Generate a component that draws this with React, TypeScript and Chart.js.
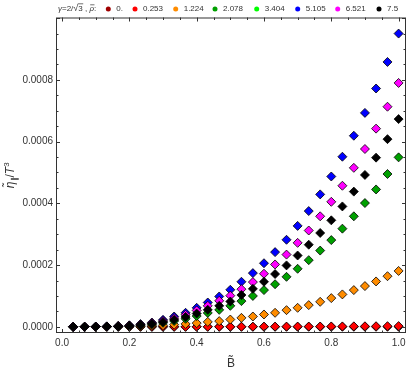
import React, { useEffect, useRef } from 'react';
import { Chart, registerables } from 'chart.js';
Chart.register(...registerables);

// B~ values (k/30)
const B = [0.033, 0.067, 0.1, 0.133, 0.167, 0.2, 0.233, 0.267, 0.3, 0.333, 0.367, 0.4, 0.433, 0.467, 0.5,
  0.533, 0.567, 0.6, 0.633, 0.667, 0.7, 0.733, 0.767, 0.8, 0.833, 0.867, 0.9, 0.933, 0.967, 1.0];

const rhoLabels = ['0.', '0.253', '1.224', '2.078', '3.404', '5.105', '6.521', '7.5'];
const rhoColors = ['#a00000', '#ff0000', '#ff8c00', '#00a000', '#00ff00', '#0000ff', '#ff00ff', '#000000'];

const rho0 = [0, 0, 0, 0, 0, 0, 0, 0, 0, 0, 0, 0, 0, 0, 0, 0, 0, 0, 0, 0, 0, 0, 0, 0, 0, 0, 0, 0, 0, 0];
const rho0253 = [0, 0, 0, 0, 0, 0, 0, 0, 0.0000001, 0.0000001, 0.0000001, 0.0000002, 0.0000002, 0.0000003, 0.0000003,
  0.0000004, 0.0000005, 0.0000006, 0.0000007, 0.0000008, 0.0000009, 0.000001, 0.0000011, 0.0000013, 0.0000014,
  0.0000016, 0.0000018, 0.000002, 0.0000022, 0.0000024];
const rho1224 = [0, 0, 0.0000001, 0.0000003, 0.0000007, 0.0000013, 0.0000022, 0.0000035, 0.000005, 0.000007,
  0.0000095, 0.000012, 0.000016, 0.0000185, 0.0000237, 0.000029, 0.0000334, 0.00004, 0.0000454, 0.000054,
  0.0000616, 0.0000703, 0.000081, 0.000093, 0.000105, 0.000119, 0.000132, 0.000147, 0.000164, 0.000181];
const rho2078 = [0, 0.0000001, 0.0000004, 0.0000008, 0.0000017, 0.0000028, 0.000005, 0.000008, 0.000013, 0.000019,
  0.000026, 0.000035, 0.000045, 0.000055, 0.000068, 0.0000833, 0.0001, 0.000119, 0.000138, 0.000162,
  0.000188, 0.000216, 0.000247, 0.000281, 0.000318, 0.000358, 0.000401, 0.000445, 0.000495, 0.000549];
const rho3404: number[] = []; // not visible in the reference (hidden)
const rho5105 = [0, 0.0000002, 0.0000007, 0.0000015, 0.000003, 0.000005, 0.000009, 0.000014, 0.0000227, 0.0000334,
  0.0000454, 0.0000616, 0.0000788, 0.0000983, 0.00012, 0.000146, 0.000174, 0.000206, 0.000242, 0.000282,
  0.000327, 0.000375, 0.000429, 0.000487, 0.000551, 0.000619, 0.000693, 0.000772, 0.000858, 0.00095];
const rho6521 = [0, 0.0000002, 0.0000006, 0.0000012, 0.0000025, 0.0000042, 0.0000075, 0.000012, 0.000019, 0.000028,
  0.000039, 0.000053, 0.000068, 0.0000843, 0.000101, 0.000122, 0.000145, 0.000172, 0.000202, 0.000234,
  0.000272, 0.000312, 0.000358, 0.000405, 0.000457, 0.000515, 0.000576, 0.000642, 0.000713, 0.00079];
const rho75 = [0, 0.0000001, 0.0000005, 0.000001, 0.000002, 0.0000035, 0.000006, 0.00001, 0.000016, 0.000023,
  0.000032, 0.000043, 0.000055, 0.000068, 0.000082, 0.000103, 0.000123, 0.000146, 0.000171, 0.000199,
  0.000231, 0.000266, 0.000304, 0.000345, 0.00039, 0.000438, 0.000492, 0.000548, 0.000608, 0.000673];

const xMajorTicks = [0, 0.2, 0.4, 0.6, 0.8, 1.0];
const yMajorTicks = [0, 0.0002, 0.0004, 0.0006, 0.0008];

// legend layout (pixel x of each marker)
const legendDotX = [108.3, 135, 175.7, 215, 256.7, 297.7, 337.7, 379];

const FONT = '"Liberation Sans", Arial, sans-serif';
const TEXT = '#333333';

export default function App() {
  const ref = useRef<HTMLCanvasElement>(null);
  useEffect(() => {
    document.body.style.margin = '0';
    const series = [rho0, rho0253, rho1224, rho2078, rho3404, rho5105, rho6521, rho75];
    const datasets = series.map((vals, i) => ({
      label: rhoLabels[i],
      data: vals.map((v, j) => ({ x: B[j], y: v })),
      backgroundColor: rhoColors[i],
      borderColor: '#000000',
      borderWidth: 0.8,
      pointStyle: 'rectRot' as const,
      pointRadius: 4.5,
      showLine: false,
      order: series.length - i,
    }));

    const decor = {
      id: 'decor',
      afterDatasetsDraw(chart: any) {
        const { ctx, chartArea: a, scales } = chart;
        const xs = scales.x, ys = scales.y;
        ctx.save();
        ctx.strokeStyle = '#333333';
        ctx.lineWidth = 1;
        ctx.strokeRect(a.left + 0.5, a.top + 0.5, a.right - a.left - 1, a.bottom - a.top - 1);
        ctx.beginPath();
        for (let i = 0; i <= 20; i++) {
          const v = i * 0.05;
          const px = Math.round(xs.getPixelForValue(v)) + 0.5;
          const len = i % 4 === 0 ? 4 : 2.5;
          ctx.moveTo(px, a.bottom); ctx.lineTo(px, a.bottom - len);
          ctx.moveTo(px, a.top); ctx.lineTo(px, a.top + len);
        }
        for (let i = 0; i <= 20; i++) {
          const v = i * 0.00005;
          if (v > ys.max) break;
          const py = Math.round(ys.getPixelForValue(v)) + 0.5;
          const len = i % 4 === 0 ? 4 : 2.5;
          ctx.moveTo(a.left, py); ctx.lineTo(a.left + len, py);
          ctx.moveTo(a.right, py); ctx.lineTo(a.right - len, py);
        }
        ctx.stroke();
        ctx.restore();
      },
      afterDraw(chart: any) {
        const { ctx, chartArea: a, scales } = chart;
        const xs = scales.x, ys = scales.y;
        ctx.save();
        ctx.fillStyle = TEXT;
        // tick labels
        ctx.font = `10px ${FONT}`;
        ctx.textBaseline = 'middle';
        ctx.textAlign = 'center';
        for (const v of xMajorTicks) ctx.fillText(v.toFixed(1), xs.getPixelForValue(v), a.bottom + 10);
        ctx.textAlign = 'right';
        for (const v of yMajorTicks) ctx.fillText(v.toFixed(4), a.left - 3, ys.getPixelForValue(v));
        ctx.textBaseline = 'alphabetic';
        // x title
        ctx.font = `12px ${FONT}`;
        ctx.textAlign = 'center';
        ctx.fillText('B\u0303', (a.left + a.right) / 2, 367);
        // y title
        ctx.save();
        ctx.translate(14, (a.top + a.bottom) / 2);
        ctx.rotate(-Math.PI / 2);
        ctx.textAlign = 'left';
        const parts: [string, string, number][] = [
          ['\u03B7\u0303', `italic 12px ${FONT}`, 0],
          ['\u2225', `8px ${FONT}`, 2.5],
          ['/', `12px ${FONT}`, 0],
          ['T', `italic 12px ${FONT}`, 0],
          ['3', `8px ${FONT}`, -5],
        ];
        let total = 0;
        for (const [t, f] of parts) { ctx.font = f; total += ctx.measureText(t).width; }
        let cx = -total / 2;
        for (const [t, f, dy] of parts) {
          ctx.font = f;
          ctx.fillText(t, cx, dy);
          cx += ctx.measureText(t).width;
        }
        ctx.restore();
        // legend
        const ly = 9;
        ctx.textAlign = 'left';
        ctx.textBaseline = 'middle';
        let x = 58;
        const put = (t: string, f: string) => { ctx.font = f; ctx.fillText(t, x, ly); x += ctx.measureText(t).width; };
        put('\u03B3', `italic 8px ${FONT}`);
        put('=2/', `8px ${FONT}`);
        put('\u221A', `9px ${FONT}`);
        ctx.font = `8px ${FONT}`;
        const w3 = ctx.measureText('3').width;
        ctx.beginPath();
        ctx.strokeStyle = TEXT;
        ctx.lineWidth = 0.7;
        ctx.moveTo(x - 0.5, ly - 5.2); ctx.lineTo(x + w3 + 0.5, ly - 5.2);
        ctx.stroke();
        put('3', `8px ${FONT}`);
        put(' , ', `8px ${FONT}`);
        ctx.font = `italic 8px ${FONT}`;
        const wr = ctx.measureText('\u03C1').width;
        ctx.beginPath();
        ctx.moveTo(x + 0.8, ly - 4.2); ctx.lineTo(x + wr + 0.5, ly - 4.2);
        ctx.stroke();
        put('\u03C1', `italic 8px ${FONT}`);
        put(':', `8px ${FONT}`);
        for (let i = 0; i < rhoLabels.length; i++) {
          ctx.beginPath();
          ctx.fillStyle = rhoColors[i];
          ctx.arc(legendDotX[i], ly, 2.5, 0, Math.PI * 2);
          ctx.fill();
          ctx.fillStyle = TEXT;
          ctx.font = `8px ${FONT}`;
          ctx.fillText(rhoLabels[i], legendDotX[i] + 8, ly);
        }
        ctx.restore();
      },
    };

    const chart = new Chart(ref.current!, {
      type: 'scatter',
      data: { datasets: datasets as any },
      options: {
        animation: false,
        responsive: false,
        events: [],
        layout: { autoPadding: false, padding: { top: 17.5, right: 1, left: 0, bottom: 0 } },
        plugins: { legend: { display: false }, tooltip: { enabled: false }, title: { display: false } },
        scales: {
          x: {
            type: 'linear',
            min: -0.018,
            max: 1.022,
            grid: { display: false, drawTicks: false },
            border: { display: false },
            ticks: { display: false },
            afterBuildTicks: (s: any) => { s.ticks = xMajorTicks.map((v) => ({ value: v })); },
            afterFit: (s: any) => { s.height = 37; },
          },
          y: {
            type: 'linear',
            min: -0.00002,
            max: 0.001002,
            grid: { display: false, drawTicks: false },
            border: { display: false },
            ticks: { display: false },
            afterBuildTicks: (s: any) => { s.ticks = yMajorTicks.map((v) => ({ value: v })); },
            afterFit: (s: any) => { s.width = 56; },
          },
        },
      },
      plugins: [decor],
    });
    return () => chart.destroy();
  }, []);
  return <canvas ref={ref} width={407} height={370} style={{ display: 'block' }} />;
}
